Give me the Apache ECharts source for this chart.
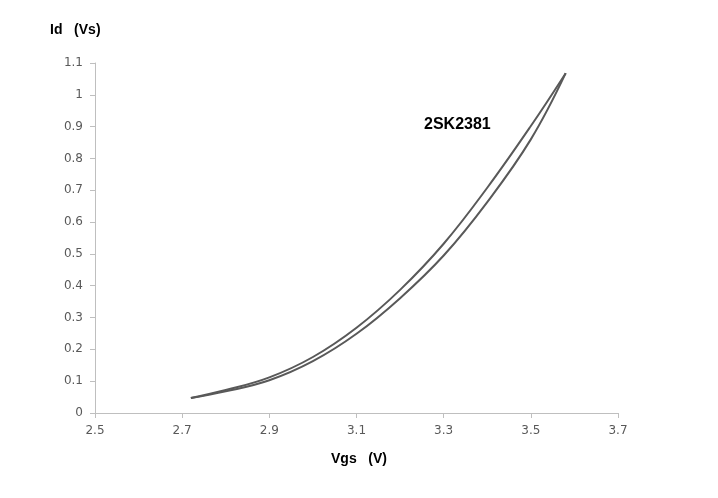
<!DOCTYPE html>
<html>
<head>
<meta charset="utf-8">
<script src="https://cdn.jsdelivr.net/npm/echarts@6/dist/echarts.min.js"></script>
<style>html,body{margin:0;padding:0;background:#fff;}#c{width:718px;height:498px;}</style>
</head>
<body>
<div id="c"></div>
<script>
const vgs = [2.72, 2.80, 2.90, 3.00, 3.10, 3.20, 3.30, 3.40, 3.50, 3.58];
const idUpper = [0.047, 0.072, 0.112, 0.176, 0.268, 0.387, 0.532, 0.708, 0.902, 1.068];
const idLower = [0.047, 0.068, 0.103, 0.163, 0.249, 0.361, 0.495, 0.663, 0.860, 1.068];
const xTicks = [2.5, 2.7, 2.9, 3.1, 3.3, 3.5, 3.7];
const yTicks = [0, 0.1, 0.2, 0.3, 0.4, 0.5, 0.6, 0.7, 0.8, 0.9, 1, 1.1];
const deviceLabel = '2SK2381';
const xTitle = 'Vgs   (V)';
const yTitle = 'Id   (Vs)';

const chart = echarts.init(document.getElementById('c'));
const pair = (xs, ys) => xs.map((x, i) => [x, ys[i]]);
const lab = {color: '#595959', fontSize: 12, fontFamily: 'DejaVu Sans'};
chart.setOption({
  animation: false,
  grid: {left: 95, right: 100, top: 63, bottom: 85},
  xAxis: {
    type: 'value', min: xTicks[0], max: xTicks[xTicks.length - 1], interval: 0.2,
    axisLine: {show: true, lineStyle: {color: '#bfbfbf'}},
    axisTick: {show: true, length: 5, lineStyle: {color: '#bfbfbf'}},
    splitLine: {show: false},
    axisLabel: Object.assign({margin: 12, formatter: v => v.toFixed(1)}, lab)
  },
  yAxis: {
    type: 'value', min: yTicks[0], max: yTicks[yTicks.length - 1], interval: 0.1,
    axisLine: {show: true, lineStyle: {color: '#bfbfbf'}},
    axisTick: {show: true, length: 5, lineStyle: {color: '#bfbfbf'}},
    splitLine: {show: false},
    axisLabel: Object.assign({margin: 12, formatter: v => String(Math.round(v * 10) / 10)}, lab)
  },
  graphic: [
    {type: 'text', left: 50, top: 23, style: {text: yTitle, font: 'bold 14px "Liberation Sans"', fill: '#000'}},
    {type: 'text', left: 331, top: 452, style: {text: xTitle, font: 'bold 14px "Liberation Sans"', fill: '#000'}},
    {type: 'text', left: 424, top: 117, style: {text: deviceLabel, font: 'bold 16px "Liberation Sans"', fill: '#000'}}
  ],
  series: [
    {type: 'line', data: pair(vgs, idUpper), smooth: 0.4, showSymbol: false, lineStyle: {color: '#595959', width: 2}},
    {type: 'line', data: pair(vgs, idLower), smooth: 0.4, showSymbol: false, lineStyle: {color: '#595959', width: 2}}
  ]
});
</script>
</body>
</html>
